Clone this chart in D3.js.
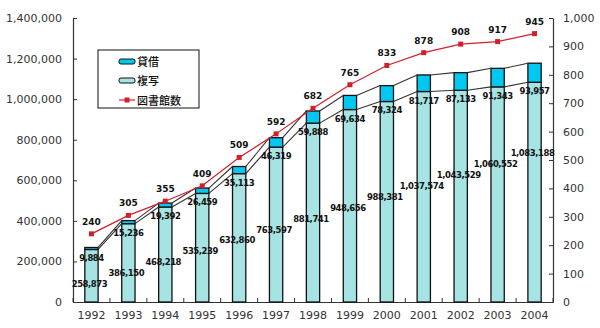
<!DOCTYPE html>
<html><head><meta charset="utf-8">
<script src="https://cdn.jsdelivr.net/npm/d3@7"></script>
<style>body{margin:0;background:#fff}svg{display:block}</style>
</head><body>
<svg id="c" width="600" height="328"></svg>
<script>
const years = ["1992","1993","1994","1995","1996","1997","1998","1999","2000","2001","2002","2003","2004"];
const copyVals = [258873,386150,468218,535239,632860,763597,881741,948656,988381,1037574,1043529,1060552,1083188];
const loanVals = [9884,15236,19392,26459,35113,46319,59888,69634,78324,81717,87133,91343,93957];
const libCounts = [240,305,355,409,509,592,682,765,833,878,908,917,945];
const leftTicks = [0,200000,400000,600000,800000,1000000,1200000,1400000];
const rightTicks = [0,100,200,300,400,500,600,700,800,900,1000];
const seriesNames = ["貸借","複写","図書館数"];

const colLoan = "#00c8f0", colCopy = "#a6e3e3", colRed = "#d0202c";
const svg = d3.select("#c");
const L = 73, R = 553, T = 18, B = 302;
const x = d3.scaleBand().domain(years).range([L, R]).paddingInner(0.64).paddingOuter(0.32);
const yL = d3.scaleLinear().domain([0, 1400000]).range([B, T]);
const yR = d3.scaleLinear().domain([0, 1000]).range([B, T]);
const font = "DejaVu Sans";
const fmt = d3.format(",");

// axes
const gl = svg.append("g").attr("transform", `translate(${L},0)`)
  .call(d3.axisLeft(yL).tickValues(leftTicks).tickFormat(fmt).tickSizeInner(-4).tickSizeOuter(0).tickPadding(11));
const gr = svg.append("g").attr("transform", `translate(${R},0)`)
  .call(d3.axisRight(yR).tickValues(rightTicks).tickFormat(fmt).tickSizeInner(-4).tickSizeOuter(0).tickPadding(10));
const gb = svg.append("g").attr("transform", `translate(0,${B})`)
  .call(d3.axisBottom(x).tickSize(0).tickPadding(9));
const step = x.step();
svg.append("g").selectAll("line").data(d3.range(years.length + 1)).join("line")
  .attr("x1", i => L + i * step).attr("x2", i => L + i * step)
  .attr("y1", B).attr("y2", B - 4).attr("stroke", "#333");
[gl, gr, gb].forEach(g => {
  g.selectAll(".domain").attr("stroke", "#333").attr("stroke-width", 1.2);
  g.selectAll(".tick line").attr("stroke", "#333");
  g.selectAll("text").attr("font-family", font).attr("font-size", 11).attr("fill", "#333");
});

const bw = x.bandwidth();
const bars = svg.append("g");
bars.selectAll(".cp").data(years).join("rect")
  .attr("x", d => x(d)).attr("width", bw)
  .attr("y", (d, i) => yL(copyVals[i])).attr("height", (d, i) => B - yL(copyVals[i]))
  .attr("fill", colCopy).attr("stroke", "#111").attr("stroke-width", 1.3);
bars.selectAll(".ln").data(years).join("rect")
  .attr("x", d => x(d)).attr("width", bw)
  .attr("y", (d, i) => yL(copyVals[i] + loanVals[i])).attr("height", (d, i) => yL(copyVals[i]) - yL(copyVals[i] + loanVals[i]))
  .attr("fill", colLoan).attr("stroke", "#111").attr("stroke-width", 1.3);

const sl = svg.append("g").attr("stroke", "#333").attr("stroke-width", 1.1);
for (let i = 0; i < years.length - 1; i++) {
  [copyVals, copyVals.map((v, k) => v + loanVals[k])].forEach(arr => {
    sl.append("line")
      .attr("x1", x(years[i]) + bw).attr("y1", yL(arr[i]))
      .attr("x2", x(years[i + 1])).attr("y2", yL(arr[i + 1]));
  });
}

const cx = d => x(d) + bw / 2;
svg.append("path").datum(libCounts)
  .attr("d", d3.line().x((d, i) => cx(years[i])).y(d => yR(d)))
  .attr("fill", "none").attr("stroke", colRed).attr("stroke-width", 1.2);
svg.append("g").selectAll("rect").data(libCounts).join("rect")
  .attr("x", (d, i) => cx(years[i]) - 2.5).attr("y", d => yR(d) - 2.5)
  .attr("width", 5).attr("height", 5).attr("fill", colRed);
svg.append("g").selectAll("text").data(libCounts).join("text")
  .attr("x", (d, i) => cx(years[i])).attr("y", d => yR(d) - 9)
  .attr("text-anchor", "middle").attr("font-family", font).attr("font-size", 9)
  .attr("font-weight", "bold").attr("fill", "#111").text(d => fmt(d));

const lblStyle = s => s.attr("text-anchor", "middle").attr("font-family", font).attr("font-size", 8.5)
  .attr("letter-spacing", -0.45).attr("font-weight", "bold").attr("fill", "#111");
svg.append("g").selectAll("text").data(loanVals).join("text")
  .attr("x", (d, i) => cx(years[i])).attr("y", (d, i) => yL(copyVals[i]) + 12)
  .call(lblStyle).text(d => fmt(d));
svg.append("g").selectAll("text").data(copyVals).join("text")
  .attr("x", (d, i) => cx(years[i]) - 2).attr("y", (d, i) => 287 - i * 10.9)
  .call(lblStyle).text(d => fmt(d));

const lg = svg.append("g").attr("transform", "translate(98,50)");
lg.append("rect").attr("width", 101).attr("height", 58).attr("fill", "#fff").attr("stroke", "#111");
lg.append("rect").attr("x", 21).attr("y", 9).attr("width", 16).attr("height", 5).attr("rx", 2)
  .attr("fill", colLoan).attr("stroke", "#111");
lg.append("rect").attr("x", 21).attr("y", 28).attr("width", 16).attr("height", 5).attr("rx", 2)
  .attr("fill", colCopy).attr("stroke", "#111");
lg.append("line").attr("x1", 21).attr("x2", 37).attr("y1", 50).attr("y2", 50).attr("stroke", colRed).attr("stroke-width", 1.2);
lg.append("rect").attr("x", 26.5).attr("y", 47.5).attr("width", 5).attr("height", 5).attr("fill", colRed);
lg.selectAll("text").data(seriesNames).join("text")
  .attr("x", 39).attr("y", (d, i) => 12 + i * 19.5).attr("dy", "0.35em")
  .attr("font-family", "Noto Sans CJK JP").attr("font-size", 11).attr("font-weight", 500).attr("fill", "#111").text(d => d);
</script>
</body></html>
